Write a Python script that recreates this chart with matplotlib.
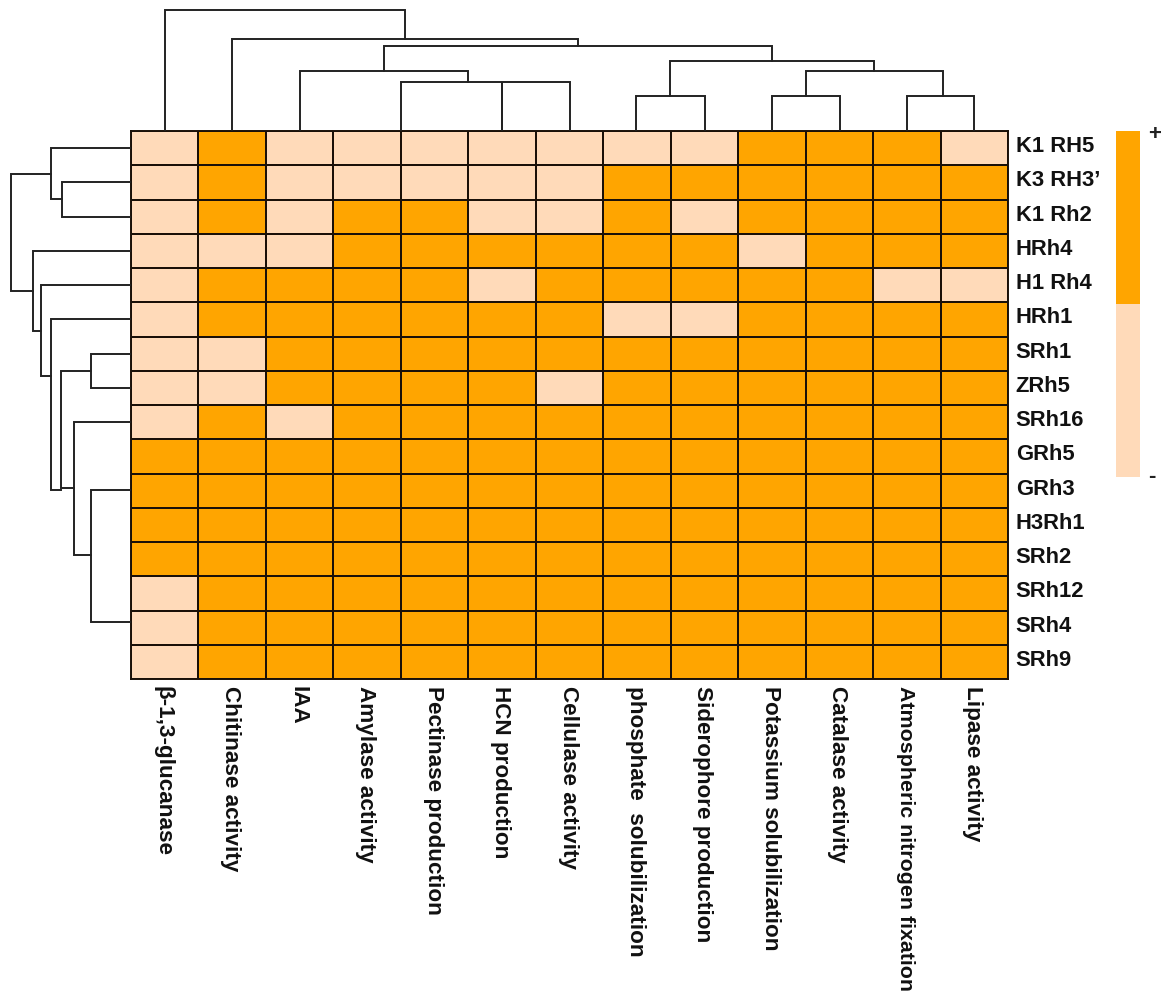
import matplotlib
matplotlib.use('Agg')
import matplotlib.pyplot as plt
from matplotlib.colors import ListedColormap
from matplotlib.transforms import ScaledTranslation
import numpy as np

plt.rcParams['font.family'] = ['Liberation Sans', 'DejaVu Sans']

traits = ['β-1,3-glucanase', 'Chitinase activity', 'IAA', 'Amylase activity',
          'Pectinase production', 'HCN production', 'Cellulase activity',
          'phosphate  solubilization', 'Siderophore production',
          'Potassium solubilization', 'Catalase activity',
          'Atmospheric nitrogen fixation', 'Lipase activity']
strains = ['K1 RH5', 'K3 RH3’', 'K1 Rh2', 'HRh4', 'H1 Rh4', 'HRh1', 'SRh1', 'ZRh5',
           'SRh16', 'GRh5', 'GRh3', 'H3Rh1', 'SRh2', 'SRh12', 'SRh4', 'SRh9']

# 1 = positive, 0 = negative
presence = np.array([
    [0, 1, 0, 0, 0, 0, 0, 0, 0, 1, 1, 1, 0],
    [0, 1, 0, 0, 0, 0, 0, 1, 1, 1, 1, 1, 1],
    [0, 1, 0, 1, 1, 0, 0, 1, 0, 1, 1, 1, 1],
    [0, 0, 0, 1, 1, 1, 1, 1, 1, 0, 1, 1, 1],
    [0, 1, 1, 1, 1, 0, 1, 1, 1, 1, 1, 0, 0],
    [0, 1, 1, 1, 1, 1, 1, 0, 0, 1, 1, 1, 1],
    [0, 0, 1, 1, 1, 1, 1, 1, 1, 1, 1, 1, 1],
    [0, 0, 1, 1, 1, 1, 0, 1, 1, 1, 1, 1, 1],
    [0, 1, 0, 1, 1, 1, 1, 1, 1, 1, 1, 1, 1],
    [1, 1, 1, 1, 1, 1, 1, 1, 1, 1, 1, 1, 1],
    [1, 1, 1, 1, 1, 1, 1, 1, 1, 1, 1, 1, 1],
    [1, 1, 1, 1, 1, 1, 1, 1, 1, 1, 1, 1, 1],
    [1, 1, 1, 1, 1, 1, 1, 1, 1, 1, 1, 1, 1],
    [0, 1, 1, 1, 1, 1, 1, 1, 1, 1, 1, 1, 1],
    [0, 1, 1, 1, 1, 1, 1, 1, 1, 1, 1, 1, 1],
    [0, 1, 1, 1, 1, 1, 1, 1, 1, 1, 1, 1, 1],
])

# dendrogram links: position a, position b, height, foot under a, foot under b
# positions in cell units, heights in distance units
col_links = [
    (0.50, 4.06, 121, 0, 92),
    (1.50, 6.63, 92, 0, 85),
    (3.75, 9.50, 85, 60, 70),
    (2.50, 4.99, 60, 0, 49),
    (4.00, 6.50, 49, 0, 0),
    (5.50, 5.50, 49, 0, 0),
    (7.99, 11.02, 70, 35, 60),
    (10.00, 12.03, 60, 35, 35),
    (7.49, 8.51, 35, 0, 0),
    (9.50, 10.51, 35, 0, 0),
    (11.51, 12.50, 35, 0, 0),
]
row_links = [
    (0.50, 1.99, 80, 0, 69),
    (1.50, 2.50, 69, 0, 0),
    (1.26, 4.66, 120, 80, 98),
    (3.50, 5.83, 98, 0, 90),
    (4.50, 7.14, 90, 0, 80),
    (5.50, 10.49, 80, 0, 70),
    (7.01, 10.42, 70, 40, 57),
    (6.50, 7.51, 40, 0, 0),
    (8.50, 12.38, 57, 0, 40),
    (10.47, 14.34, 40, 0, 0),
]

legend_levels = [[1], [0]]
legend_marks = ['+', '-']

W, H = 1170, 1001
colors = ListedColormap(['#FFDAB9', '#FFA500'])
line_col = '#1a1008'


def box(x0, y0, x1, y1):
    # pixel box to figure fraction
    return [x0 / W, 1 - y1 / H, (x1 - x0) / W, (y1 - y0) / H]


fig = plt.figure(figsize=(W / 100, H / 100), dpi=100)

# heatmap
ax = fig.add_axes(box(131, 131, 1008, 679))
ax.pcolormesh(presence, cmap=colors, vmin=0, vmax=1, edgecolors=line_col, linewidth=1.4)
ax.set_xlim(0, len(traits))
ax.set_ylim(len(strains), 0)
ax.set_xticks(np.arange(len(traits)) + 0.5)
ax.set_xticklabels(traits, rotation=-90, fontsize=16.2, fontweight='bold', color='#111111')
ax.set_yticks(np.arange(len(strains)) + 0.5)
ax.set_yticklabels(strains, fontsize=15.8, fontweight='bold', color='#111111')
ax.yaxis.tick_right()
ax.tick_params(length=0, axis='x', pad=4.7)
ax.tick_params(length=0, axis='y', pad=5.5)
# longest label has to stay inside the image
ax.get_xticklabels()[traits.index('Atmospheric nitrogen fixation')].set_fontsize(15.4)
# row labels sit a little above the cell centres, column labels a little left
lift = ScaledTranslation(0, 4 / 100, fig.dpi_scale_trans)
for lab in ax.get_yticklabels():
    lab.set_transform(lab.get_transform() + lift)
nudge = ScaledTranslation(-1.5 / 100, 0, fig.dpi_scale_trans)
for lab in ax.get_xticklabels():
    lab.set_transform(lab.get_transform() + nudge)
for s in ax.spines.values():
    s.set_linewidth(1.4)
    s.set_color(line_col)

# top dendrogram
ax_top = fig.add_axes(box(131, 0, 1008, 131))
ax_top.set_xlim(0, len(traits))
ax_top.set_ylim(0, 131)
ax_top.axis('off')
for a, b, h, foot_a, foot_b in col_links:
    ax_top.plot([a, a, b, b], [foot_a, h, h, foot_b], color='#222222', lw=1.4, solid_joinstyle='miter')

# left dendrogram
ax_left = fig.add_axes(box(0, 131, 131, 679))
ax_left.set_xlim(131, 0)
ax_left.set_ylim(len(strains), 0)
ax_left.axis('off')
for a, b, h, foot_a, foot_b in row_links:
    ax_left.plot([foot_a, h, h, foot_b], [a, a, b, b], color='#222222', lw=1.4, solid_joinstyle='miter')

# legend strip
ax_leg = fig.add_axes(box(1116, 131, 1140, 477))
ax_leg.pcolormesh(legend_levels, cmap=colors, vmin=0, vmax=1)
ax_leg.invert_yaxis()
ax_leg.axis('off')
fig.text(1155 / W, 1 - 135 / H, legend_marks[0], fontsize=16, fontweight='bold', ha='center', va='center', color='#222222')
fig.text(1152 / W, 1 - 477 / H, legend_marks[1], fontsize=16, fontweight='bold', ha='center', va='center', color='#222222')

fig.savefig('out.png', dpi=100)
